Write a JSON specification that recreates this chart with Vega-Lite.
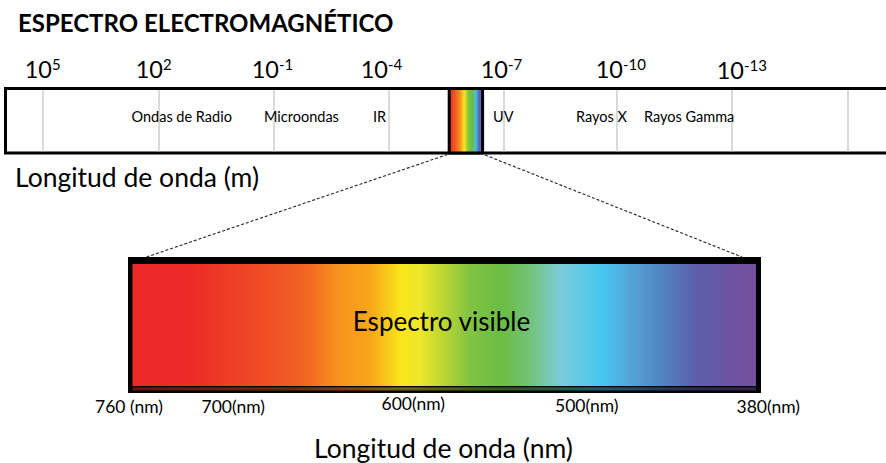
{
  "$schema": "https://vega.github.io/schema/vega-lite/v6.json",
  "width": 886,
  "height": 463,
  "autosize": "none",
  "padding": 0,
  "background": "white",
  "config": {"view": {"stroke": null}, "font": "Lato"},
  "datasets": {
    "bar": [{"x": 5.5, "x2": 895, "y": 88.5, "y2": 153}],
    "grid": [
      {"x": 43, "y": 90, "y2": 151.5},
      {"x": 159, "y": 90, "y2": 151.5},
      {"x": 274, "y": 90, "y2": 151.5},
      {"x": 389, "y": 90, "y2": 151.5},
      {"x": 504, "y": 90, "y2": 151.5},
      {"x": 617, "y": 90, "y2": 151.5},
      {"x": 732, "y": 90, "y2": 151.5},
      {"x": 848, "y": 90, "y2": 151.5}
    ],
    "strip": [{"x": 449.2, "x2": 482.6, "y": 88.5, "y2": 153}],
    "powers": [
      {"x": 52, "y": 78, "ys": 70, "base": "10", "exp": "5"},
      {"x": 163, "y": 78, "ys": 70, "base": "10", "exp": "2"},
      {"x": 279, "y": 78, "ys": 70, "base": "10", "exp": "-1"},
      {"x": 388, "y": 78, "ys": 70, "base": "10", "exp": "-4"},
      {"x": 508, "y": 78, "ys": 70, "base": "10", "exp": "-7"},
      {"x": 623, "y": 78, "ys": 70, "base": "10", "exp": "-10"},
      {"x": 744, "y": 79, "ys": 71, "base": "10", "exp": "-13"}
    ],
    "bands": [
      {"x": 131.5, "y": 118, "label": "Ondas de Radio"},
      {"x": 264, "y": 117.5, "label": "Microondas"},
      {"x": 373, "y": 117.5, "label": "IR"},
      {"x": 493, "y": 117.5, "label": "UV"},
      {"x": 576, "y": 118, "label": "Rayos X"},
      {"x": 644, "y": 117.5, "label": "Rayos Gamma"}
    ],
    "zoomlines": [
      {"x": 447.5, "y": 154.5, "x2": 146.5, "y2": 257},
      {"x": 485, "y": 155, "x2": 742, "y2": 257}
    ],
    "box": [{"x": 128, "x2": 761, "y": 257, "y2": 393}],
    "inner": [{"x": 132.5, "x2": 756, "y": 264, "y2": 386}],
    "lowstrip": [{"x": 132.5, "x2": 756, "y": 387.3, "y2": 390.5}],
    "nm": [
      {"x": 95, "y": 413, "label": "760 (nm)"},
      {"x": 201.5, "y": 413, "label": "700(nm)"},
      {"x": 381.5, "y": 410, "label": "600(nm)"},
      {"x": 555, "y": 411.5, "label": "500(nm)"},
      {"x": 736.5, "y": 413, "label": "380(nm)"}
    ],
    "titles": [
      {"x": 18, "y": 31.5, "label": "ESPECTRO ELECTROMAGNÉTICO"}
    ],
    "axisname_m": [
      {"x": 15, "y": 186.5, "label": "Longitud de onda (m)"}
    ],
    "axisname_nm": [
      {"x": 443.5, "y": 457.5, "label": "Longitud de onda (nm)"}
    ],
    "inside": [{"x": 441.5, "y": 331, "label": "Espectro visible"}]
  },
  "layer": [
    {
      "data": {"name": "bar"},
      "mark": {"type": "rect", "fill": "white", "stroke": "black", "strokeWidth": 3},
      "encoding": {
        "x": {"field": "x", "type": "quantitative", "scale": {"domain": [0, 886], "nice": false, "zero": false}, "axis": null},
        "x2": {"field": "x2"},
        "y": {"field": "y", "type": "quantitative", "scale": {"domain": [0, 463], "nice": false, "zero": false, "reverse": true}, "axis": null},
        "y2": {"field": "y2"}
      }
    },
    {
      "data": {"name": "grid"},
      "mark": {"type": "rule", "stroke": "#c6c6c6", "strokeWidth": 1.3},
      "encoding": {
        "x": {"field": "x", "type": "quantitative"},
        "y": {"field": "y", "type": "quantitative"},
        "y2": {"field": "y2"}
      }
    },
    {
      "data": {"name": "strip"},
      "mark": {
        "type": "rect",
        "stroke": "black",
        "strokeWidth": 3,
        "fill": {
          "gradient": "linear", "x1": 0, "y1": 0, "x2": 1, "y2": 0,
          "stops": [
            {"offset": 0, "color": "#ec2a27"},
            {"offset": 0.18, "color": "#f15a24"},
            {"offset": 0.33, "color": "#f7941d"},
            {"offset": 0.45, "color": "#f9e51b"},
            {"offset": 0.58, "color": "#80c342"},
            {"offset": 0.7, "color": "#6abd45"},
            {"offset": 0.8, "color": "#45c0ec"},
            {"offset": 0.9, "color": "#5561aa"},
            {"offset": 1, "color": "#8a6fb5"}
          ]
        }
      },
      "encoding": {
        "x": {"field": "x", "type": "quantitative"},
        "x2": {"field": "x2"},
        "y": {"field": "y", "type": "quantitative"},
        "y2": {"field": "y2"}
      }
    },
    {
      "data": {"name": "powers"},
      "mark": {"type": "text", "align": "right", "baseline": "alphabetic", "fontSize": 23.5, "color": "black"},
      "encoding": {
        "x": {"field": "x", "type": "quantitative"},
        "y": {"field": "y", "type": "quantitative"},
        "text": {"field": "base"}
      }
    },
    {
      "data": {"name": "powers"},
      "mark": {"type": "text", "align": "left", "baseline": "alphabetic", "fontSize": 15, "color": "black"},
      "encoding": {
        "x": {"field": "x", "type": "quantitative"},
        "y": {"field": "ys", "type": "quantitative"},
        "text": {"field": "exp"}
      }
    },
    {
      "data": {"name": "bands"},
      "mark": {"type": "text", "align": "left", "baseline": "middle", "fontSize": 14.5, "color": "black"},
      "encoding": {
        "x": {"field": "x", "type": "quantitative"},
        "y": {"field": "y", "type": "quantitative"},
        "text": {"field": "label"}
      }
    },
    {
      "data": {"name": "zoomlines"},
      "mark": {"type": "rule", "stroke": "#222", "strokeWidth": 1.1, "strokeDash": [3, 2]},
      "encoding": {
        "x": {"field": "x", "type": "quantitative"},
        "y": {"field": "y", "type": "quantitative"},
        "x2": {"field": "x2"},
        "y2": {"field": "y2"}
      }
    },
    {
      "data": {"name": "box"},
      "mark": {"type": "rect", "fill": "black"},
      "encoding": {
        "x": {"field": "x", "type": "quantitative"},
        "x2": {"field": "x2"},
        "y": {"field": "y", "type": "quantitative"},
        "y2": {"field": "y2"}
      }
    },
    {
      "data": {"name": "inner"},
      "mark": {
        "type": "rect",
        "fill": {
          "gradient": "linear", "x1": 0, "y1": 0, "x2": 1, "y2": 0,
          "stops": [
            {"offset": 0, "color": "#ec2a27"},
            {"offset": 0.093, "color": "#ec2a27"},
            {"offset": 0.173, "color": "#ee4326"},
            {"offset": 0.253, "color": "#f15a24"},
            {"offset": 0.285, "color": "#f26a22"},
            {"offset": 0.333, "color": "#f7941d"},
            {"offset": 0.381, "color": "#f9a61a"},
            {"offset": 0.43, "color": "#f9e51b"},
            {"offset": 0.46, "color": "#eee72a"},
            {"offset": 0.505, "color": "#b3d335"},
            {"offset": 0.542, "color": "#80c342"},
            {"offset": 0.595, "color": "#6abd45"},
            {"offset": 0.638, "color": "#74c27a"},
            {"offset": 0.686, "color": "#7accd9"},
            {"offset": 0.755, "color": "#44c7f0"},
            {"offset": 0.793, "color": "#56a8da"},
            {"offset": 0.846, "color": "#5086c1"},
            {"offset": 0.899, "color": "#5b61aa"},
            {"offset": 0.954, "color": "#6c54a2"},
            {"offset": 1, "color": "#7650a0"}
          ]
        }
      },
      "encoding": {
        "x": {"field": "x", "type": "quantitative"},
        "x2": {"field": "x2"},
        "y": {"field": "y", "type": "quantitative"},
        "y2": {"field": "y2"}
      }
    },
    {
      "data": {"name": "lowstrip"},
      "mark": {
        "type": "rect",
        "opacity": 0.45,
        "fill": {
          "gradient": "linear", "x1": 0, "y1": 0, "x2": 1, "y2": 0,
          "stops": [
            {"offset": 0, "color": "#ec2a27"},
            {"offset": 0.253, "color": "#f15a24"},
            {"offset": 0.333, "color": "#f7941d"},
            {"offset": 0.43, "color": "#f9e51b"},
            {"offset": 0.595, "color": "#6abd45"},
            {"offset": 0.755, "color": "#44c7f0"},
            {"offset": 0.899, "color": "#5b61aa"},
            {"offset": 1, "color": "#7650a0"}
          ]
        }
      },
      "encoding": {
        "x": {"field": "x", "type": "quantitative"},
        "x2": {"field": "x2"},
        "y": {"field": "y", "type": "quantitative"},
        "y2": {"field": "y2"}
      }
    },
    {
      "data": {"name": "nm"},
      "mark": {"type": "text", "align": "left", "baseline": "alphabetic", "fontSize": 17.5, "color": "black"},
      "encoding": {
        "x": {"field": "x", "type": "quantitative"},
        "y": {"field": "y", "type": "quantitative"},
        "text": {"field": "label"}
      }
    },
    {
      "data": {"name": "titles"},
      "mark": {"type": "text", "align": "left", "baseline": "alphabetic", "fontSize": 24, "fontWeight": "bold", "color": "black"},
      "encoding": {
        "x": {"field": "x", "type": "quantitative"},
        "y": {"field": "y", "type": "quantitative"},
        "text": {"field": "label"}
      }
    },
    {
      "data": {"name": "axisname_m"},
      "mark": {"type": "text", "align": "left", "baseline": "alphabetic", "fontSize": 26.5, "color": "black"},
      "encoding": {
        "x": {"field": "x", "type": "quantitative"},
        "y": {"field": "y", "type": "quantitative"},
        "text": {"field": "label"}
      }
    },
    {
      "data": {"name": "axisname_nm"},
      "mark": {"type": "text", "align": "center", "baseline": "alphabetic", "fontSize": 26.5, "color": "black"},
      "encoding": {
        "x": {"field": "x", "type": "quantitative"},
        "y": {"field": "y", "type": "quantitative"},
        "text": {"field": "label"}
      }
    },
    {
      "data": {"name": "inside"},
      "mark": {"type": "text", "align": "center", "baseline": "alphabetic", "fontSize": 26, "color": "black"},
      "encoding": {
        "x": {"field": "x", "type": "quantitative"},
        "y": {"field": "y", "type": "quantitative"},
        "text": {"field": "label"}
      }
    }
  ]
}
